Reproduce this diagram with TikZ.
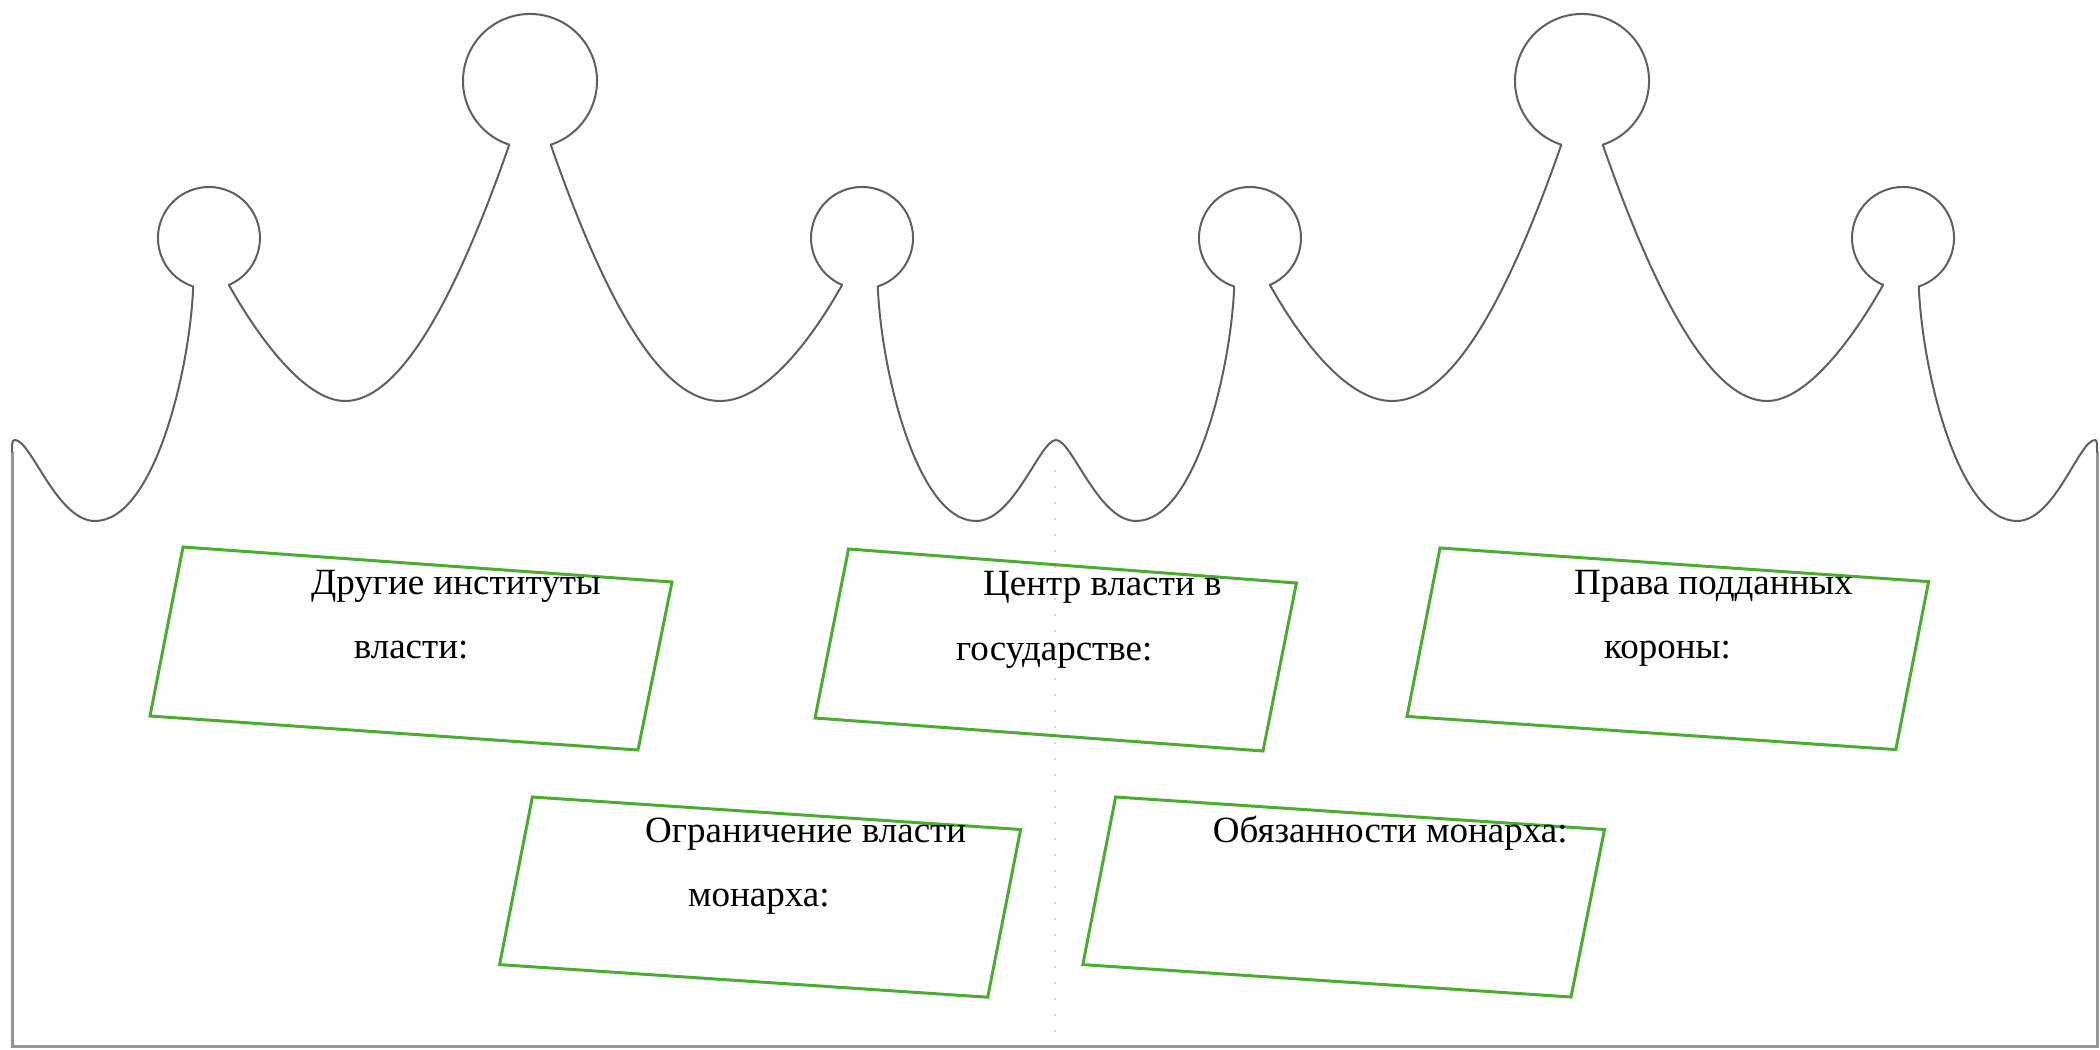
\documentclass[tikz,border=0pt]{standalone}
\usepackage{fontspec}
\setmainfont{Liberation Serif}
\definecolor{crownline}{RGB}{95,95,95}
\definecolor{frameline}{RGB}{150,150,150}
\definecolor{foldline}{RGB}{215,215,215}
\definecolor{boxgreen}{RGB}{76,172,50}
\begin{document}
\begin{tikzpicture}[x=1pt,y=-1pt,
  crown/.style={draw=crownline, line width=2pt, line join=round, line cap=round},
  frame/.style={draw=frameline, line width=3pt},
  fold/.style={draw=foldline, line width=2.5pt, dash pattern=on 2pt off 14pt},
  card/.style={draw=boxgreen, line width=3pt, line join=miter},
  label/.style={inner sep=0pt, anchor=base west, font=\fontsize{37}{44}\selectfont}
]
\useasboundingbox (0,0) rectangle (2100,1049);

% paper edges below the crown
\draw[frame] (12,452) -- (12,1046) -- (2097,1046) -- (2097,452);

% faint fold line in the middle
\draw[fold] (1055,470) -- (1055,1046);

% crown outline: five teeth with balls on top
\draw[crown]
  (12,452) .. controls (12,443) and (12,440) .. (15,440)
  .. controls (31,440) and (57,521) .. (95,521)
  .. controls (154,521) and (190,370) .. (193.2,286.5)
  arc[start angle=108, end angle=427, radius=51]
  .. controls (257,335) and (304,401) .. (345,401)
  .. controls (398,401) and (453,306) .. (509.3,144.7)
  arc[start angle=108, end angle=432, radius=67]
  .. controls (607,306) and (662,401) .. (720,401)
  .. controls (767,401) and (814,335) .. (842.1,284.9)
  arc[start angle=113, end angle=432, radius=51]
  .. controls (881,370) and (917,521) .. (976,521)
  .. controls (1014,521) and (1040,440) .. (1056,440)
  .. controls (1072,440) and (1098,521) .. (1136,521)
  .. controls (1195,521) and (1231,370) .. (1234.2,286.5)
  arc[start angle=108, end angle=427, radius=51]
  .. controls (1298,335) and (1345,401) .. (1392,401)
  .. controls (1450,401) and (1505,306) .. (1561.3,144.7)
  arc[start angle=108, end angle=432, radius=67]
  .. controls (1659,306) and (1714,401) .. (1767,401)
  .. controls (1808,401) and (1855,335) .. (1883.1,284.9)
  arc[start angle=113, end angle=432, radius=51]
  .. controls (1922,370) and (1958,521) .. (2017,521)
  .. controls (2055,521) and (2079,440) .. (2095,440)
  .. controls (2097,440) and (2097,443) .. (2097,452);

% corners of the five slanted cards
\coordinate (a1) at (183,547);    \coordinate (a2) at (672,582);
\coordinate (a3) at (638,750);    \coordinate (a4) at (150,716);
\coordinate (b1) at (848.5,549);  \coordinate (b2) at (1296.4,583);
\coordinate (b3) at (1263,751);   \coordinate (b4) at (815,718);
\coordinate (c1) at (1440,548);   \coordinate (c2) at (1928.6,581.6);
\coordinate (c3) at (1895.8,749.6); \coordinate (c4) at (1407,716.4);
\coordinate (d1) at (532.4,797);  \coordinate (d2) at (1020.6,829.5);
\coordinate (d3) at (987.7,997.2); \coordinate (d4) at (499.6,964.6);
\coordinate (e1) at (1115.6,797); \coordinate (e2) at (1604.5,829.5);
\coordinate (e3) at (1571,997);   \coordinate (e4) at (1082.8,964.6);

\draw[card] (a1) -- (a2) -- (a3) -- (a4) -- cycle;
\draw[card] (b1) -- (b2) -- (b3) -- (b4) -- cycle;
\draw[card] (c1) -- (c2) -- (c3) -- (c4) -- cycle;
\draw[card] (d1) -- (d2) -- (d3) -- (d4) -- cycle;
\draw[card] (e1) -- (e2) -- (e3) -- (e4) -- cycle;

% card titles
\node[label] (t1a) at (311,594) {Другие институты};
\node[label] (t1b) at (353.6,658) {власти:};
\node[label] (t2a) at (983,595) {Центр власти в};
\node[label] (t2b) at (956,660) {государстве:};
\node[label] (t3a) at (1574,594) {Права подданных};
\node[label] (t3b) at (1604,658) {короны:};
\node[label] (t4a) at (645,842) {Ограничение власти};
\node[label] (t4b) at (688,906) {монарха:};
\node[label] (t5a) at (1212.7,842) {Обязанности монарха:};
\end{tikzpicture}
\end{document}
